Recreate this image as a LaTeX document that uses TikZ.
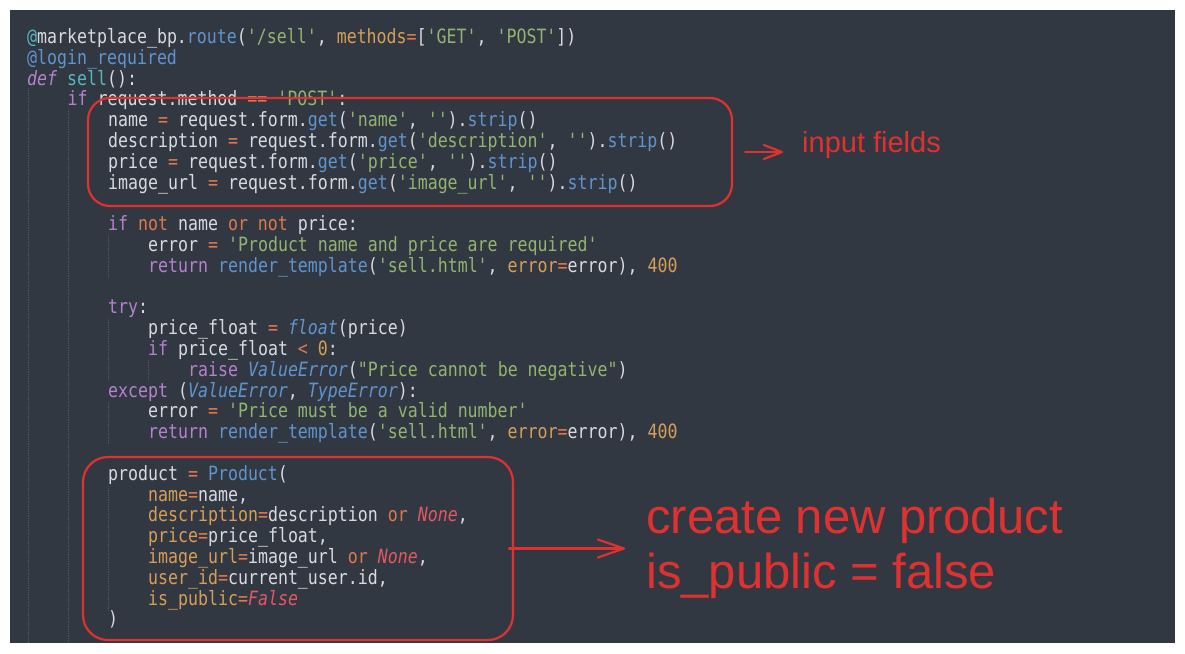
\documentclass[tikz,border=0pt]{standalone}
\usepackage{fontspec}
\usepackage{tikz}
\usetikzlibrary{arrows.meta}
\setmonofont[FakeStretch=0.842]{DejaVu Sans Mono}
\newfontfamily\notefont{Liberation Sans}
\definecolor{codebg}{RGB}{50,56,66}
\definecolor{codefg}{RGB}{215,218,224}
\definecolor{kwcol}{RGB}{180,130,205}
\definecolor{fncol}{RGB}{95,148,205}
\definecolor{strcol}{RGB}{145,180,112}
\definecolor{opcol}{RGB}{222,120,78}
\definecolor{argcol}{RGB}{214,158,88}
\definecolor{constcol}{RGB}{226,88,98}
\definecolor{tealcol}{RGB}{86,182,194}
\definecolor{guidecol}{RGB}{78,86,99}
\definecolor{annot}{RGB}{224,49,49}
\newcommand{\ckw}[1]{\textcolor{kwcol}{#1}}
\newcommand{\cfn}[1]{\textcolor{fncol}{#1}}
\newcommand{\cfni}[1]{\textcolor{fncol}{\itshape #1}}
\newcommand{\cstr}[1]{\textcolor{strcol}{#1}}
\newcommand{\cop}[1]{\textcolor{opcol}{#1}}
\newcommand{\carg}[1]{\textcolor{argcol}{#1}}
\newcommand{\cconst}[1]{\textcolor{constcol}{\itshape #1}}
\newcommand{\cteal}[1]{\textcolor{tealcol}{#1}}
\tikzset{
	code/.style={anchor=base west,inner sep=0pt,text=codefg,font=\ttfamily\fontsize{19.7}{20.8}\selectfont},
	guide/.style={draw=guidecol,densely dotted,line width=0.8pt},
	redbox/.style={draw=annot,line width=2.2pt,rounded corners=22pt},
	note/.style={inner sep=0pt,text=annot,align=left},
	arrsmall/.style={draw=annot,line width=2.2pt,line cap=round,-{Straight Barb[length=18pt,width=14pt,round]}},
	arrbig/.style={draw=annot,line width=2.2pt,line cap=round,-{Straight Barb[length=26pt,width=18pt,round]}}
}

\begin{document}
\begin{tikzpicture}[x=1pt,y=-1pt]
				\fill [white](0,0) rectangle (1185,653);
				\fill [codebg](10,10) rectangle (1175,643);
				\draw [guide](28.5,88)--(28.5,643);
				\draw [guide](68.5,109)--(68.5,643);
				\draw [guide](108.5,235)--(108.5,277);
				\draw [guide](108.5,318)--(108.5,381);
				\draw [guide](148.5,360)--(148.5,381);
				\draw [guide](108.5,402)--(108.5,444);
				\draw [guide](108.5,486)--(108.5,611);
				
				\node [code](l1) at (27,43.5){\cteal{@}marketplace\_bp.\cfn{route}(\cstr{'/sell'}, \carg{methods}\cop{=}[\cstr{'GET'}, \cstr{'POST'}])};
				\node [code](l2) at (27,64.3){\cfn{@login\_required}};
				\node [code](l3) at (27,85.1){\ckw{\itshape def} \cteal{sell}():};
				\node [code](l4) at (67.5,105.9){\ckw{if} request.method \cop{==} \cstr{'POST'}:};
				\node [code](l5) at (108,126.7){name \cop{=} request.form.\cfn{get}(\cstr{'name'}, \cstr{''}).\cfn{strip}()};
				\node [code](l6) at (108,147.5){description \cop{=} request.form.\cfn{get}(\cstr{'description'}, \cstr{''}).\cfn{strip}()};
				\node [code](l7) at (108,168.3){price \cop{=} request.form.\cfn{get}(\cstr{'price'}, \cstr{''}).\cfn{strip}()};
				\node [code](l8) at (108,189.1){image\_url \cop{=} request.form.\cfn{get}(\cstr{'image\_url'}, \cstr{''}).\cfn{strip}()};
				\node [code](l10) at (108,230.7){\ckw{if} \cop{not} name \cop{or} \cop{not} price:};
				\node [code](l11) at (148,251.5){error \cop{=} \cstr{'Product name and price are required'}};
				\node [code](l12) at (148,272.3){\ckw{return} \cfn{render\_template}(\cstr{'sell.html'}, \carg{error}\cop{=}error), \carg{400}};
				\node [code](l14) at (108,313.9){\ckw{try}:};
				\node [code](l15) at (148,334.7){price\_float \cop{=} \cfni{float}(price)};
				\node [code](l16) at (148,355.5){\ckw{if} price\_float \cop{<} \carg{0}:};
				\node [code](l17) at (188,376.3){\ckw{raise} \cfni{ValueError}(\cstr{"Price cannot be negative"})};
				\node [code](l18) at (108,397.1){\ckw{except} (\cfni{ValueError}, \cfni{TypeError}):};
				\node [code](l19) at (148,417.9){error \cop{=} \cstr{'Price must be a valid number'}};
				\node [code](l20) at (148,438.7){\ckw{return} \cfn{render\_template}(\cstr{'sell.html'}, \carg{error}\cop{=}error), \carg{400}};
				\node [code](l22) at (108,480.3){product \cop{=} \cfn{Product}(};
				\node [code](l23) at (148,501.1){\carg{name}\cop{=}name,};
				\node [code](l24) at (148,521.9){\carg{description}\cop{=}description \cop{or} \cconst{None},};
				\node [code](l25) at (148,542.7){\carg{price}\cop{=}price\_float,};
				\node [code](l26) at (148,563.5){\carg{image\_url}\cop{=}image\_url \cop{or} \cconst{None},};
				\node [code](l27) at (148,584.3){\carg{user\_id}\cop{=}current\_user.id,};
				\node [code](l28) at (148,605.1){\carg{is\_public}\cop{=}\cconst{False}};
				\node [code](l29) at (108,625.9){)};
				
				\node [redbox,minimum width=644pt,minimum height=108pt](inbox) at (410,152){};
				\node [redbox,minimum width=430pt,minimum height=183pt,rounded corners=25pt](newbox) at (298,548.5){};
				\node [note,anchor=base west,font=\notefont\fontsize{29}{34}\selectfont](infields) at (802,152){input fields};
				\node [note,anchor=west,font=\notefont\fontsize{49}{55}\selectfont](newnote) at (646,548){create new product\\is\_public = false};
				\draw [arrsmall,shorten <=12pt,shorten >=19pt](inbox.east)--(inbox.east -| infields.west);
				\draw [arrbig,shorten <=-5pt,shorten >=21pt](newbox.east)--(newbox.east -| newnote.west);
				
\end{tikzpicture}
\end{document}
